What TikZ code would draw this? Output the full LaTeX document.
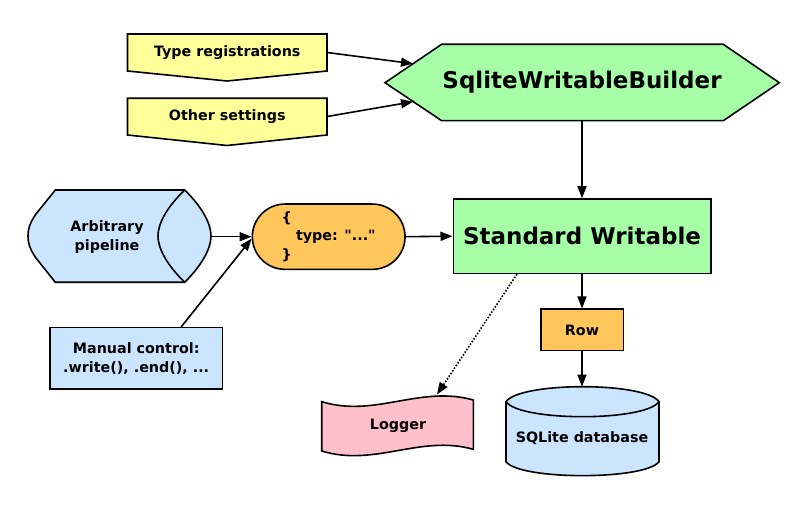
\documentclass[tikz,border=0pt]{standalone}
\usepackage{fontspec}
\setmainfont{DejaVu Sans}[Ligatures=TeXOff]
\usetikzlibrary{arrows.meta,shapes.misc}
\definecolor{cyel}{HTML}{FFFF99}
\definecolor{cgreen}{HTML}{A6FFA6}
\definecolor{cblue}{HTML}{CCE5FF}
\definecolor{corange}{HTML}{FFC65C}
\definecolor{cpink}{HTML}{FFC0CB}
\begin{document}
\begin{tikzpicture}[x=1pt,y=-1pt,
  outl/.style={draw=black,line width=1.6pt,line join=miter},
  small/.style={font=\fontsize{14.3}{18.5}\selectfont\bfseries,align=center,inner sep=0pt},
  big/.style={font=\fontsize{23}{26}\selectfont\bfseries,align=center,inner sep=0pt},
  arr/.style={line width=1.6pt,-{Triangle[length=12pt,width=9pt]}},
  box/.style={outl,rectangle,inner sep=0pt}]
\useasboundingbox (0,0) rectangle (809,510);
% shapes
\path[outl,fill=cyel] (127.5,34) -- (327,34) -- (327,71) -- (227,81) -- (127.5,71) -- cycle;
\path[outl,fill=cyel] (127.5,98.3) -- (327,98.3) -- (327,135) -- (227,145.5) -- (127.5,135) -- cycle;
\path[outl,fill=cgreen] (385,82.7) -- (441.7,44.3) -- (723.3,44.3) -- (779.3,82.7) -- (723.3,120.7) -- (441.7,120.7) -- cycle;
\path[outl,fill=cblue] (55.3,190) -- (184.7,190)
   .. controls (204,209) and (211,225) .. (211,236)
   .. controls (211,247) and (204,263) .. (184.7,282.3)
   -- (55.3,282.3) -- (36,258) .. controls (29,248) and (28,242) .. (28,236)
   .. controls (28,230) and (29,224) .. (36,214) -- cycle;
\draw[outl] (184.7,190) .. controls (165,209) and (158,225) .. (158,236)
   .. controls (158,247) and (165,263) .. (184.7,282.3);
\path[outl,fill=cpink] (321.7,401.7) .. controls (375,418) and (420,385) .. (473.3,400)
   -- (473.3,449.3) .. controls (420,434.3) and (375,467.3) .. (321.7,451) -- cycle;
\path[outl,fill=cblue] (506,401.7) .. controls (520,381.7) and (645,381.7) .. (659,401.7)
   -- (659,461.7) .. controls (645,480.3) and (520,480.3) .. (506,461.7) -- cycle;
\draw[outl] (506,401.7) .. controls (520,421.7) and (645,421.7) .. (659,401.7);
% nodes
\node[small,minimum width=199.5pt,minimum height=37pt] (tr) at (227.25,52.5) {Type registrations};
\node[small,minimum width=199.5pt,minimum height=37pt] (os) at (227.25,116.5) {Other settings};
\node[big,minimum width=394pt,minimum height=76.4pt] (swb) at (582,82.5) {SqliteWritableBuilder};
\node[small] (pipe) at (107,237) {Arbitrary\\pipeline};
\node[small,outl,shape=rounded rectangle,fill=corange,minimum width=152.7pt,minimum height=65.3pt,align=left] (json) at (328.7,236.7) {\{\\\hspace{14.3pt}type: "..."\\\}};
\node[big,box,fill=cgreen,minimum width=257.4pt,minimum height=74.3pt] (sw) at (582,236.2) {Standard Writable};
\node[small,box,fill=cblue,minimum width=172.3pt,minimum height=61.6pt] (mc) at (136.2,358.5) {Manual control:\\.write(), .end(), ...};
\node[small,box,fill=corange,minimum width=82.6pt,minimum height=41.4pt] (row) at (582,330) {Row};
\node[small] (logger) at (398,426) {Logger};
\node[small] (db) at (582,438.3) {SQLite database};
% connector end points
\coordinate (swbA) at (413,63.7);
\coordinate (swbB) at (413,101.7);
\coordinate (pipeR) at (211,236.7);
\coordinate (dbtop) at (582,386.7);
\coordinate (logtop) at (437,394.5);
% connectors
\draw[arr] (tr.east) -- (swbA);
\draw[arr] (os.east) -- (swbB);
\draw[arr] (swb.south) -- (sw.north);
\draw[arr] (pipeR) -- (json.west);
\draw[arr] ([xshift=45pt]mc.north) -- ([yshift=-2pt]json.west);
\draw[arr] (json.east) -- (sw.west);
\draw[arr] (sw.south) -- (row.north);
\draw[arr] (row.south) -- (dbtop);
\draw[arr,dash pattern=on 1.6pt off 1.6pt] ([xshift=-65pt]sw.south) -- (logtop);
\end{tikzpicture}
\end{document}
